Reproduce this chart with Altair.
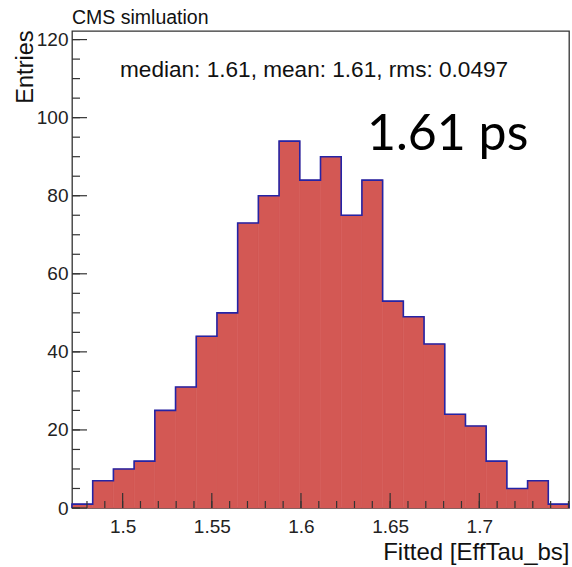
import altair as alt
import pandas as pd

# Histogram of fitted effective lifetimes (24 equal bins)
bin_lo = 1.4716
bin_hi = 1.7503
counts = [1, 7, 10, 12, 25, 31, 44, 50, 73, 80, 94, 84,
          90, 75, 84, 53, 49, 42, 24, 21, 12, 5, 7, 1]

x_major = [1.5, 1.55, 1.6, 1.65, 1.7]
x_minor = [round(1.48 + 0.01 * i, 2) for i in range(28)]
y_major = [0, 20, 40, 60, 80, 100, 120]
y_minor = list(range(0, 125, 5))
y_top = 122.2

stats_text = "median: 1.61, mean: 1.61, rms: 0.0497"
big_text = "1.61 ps"
corner_text = "CMS simluation"

W, H = 497, 477
FONT = "Liberation Sans"
FILL = "#d35854"

n = len(counts)
width = (bin_hi - bin_lo) / n
edges = [bin_lo + i * width for i in range(n + 1)]

bins = pd.DataFrame({"v": edges[:-1], "v2": edges[1:], "y": counts})

# outline path: start at baseline, step across bin tops, back to baseline
xs = [bin_lo] + edges[:-1] + [bin_hi, bin_hi]
ys = [0] + counts + [counts[-1], 0]
path = pd.DataFrame({"idx": range(len(xs)), "v": xs, "y": ys})

x_scale = alt.Scale(domain=[bin_lo, bin_hi], nice=False, zero=False)
y_scale = alt.Scale(domain=[0, y_top], nice=False)

x_axis = alt.Axis(
    values=x_major, format=".3~g", ticks=False, domain=False, grid=False,
    labelFont=FONT, labelFontSize=19, labelColor="#222", labelPadding=9,
    title="Fitted [EffTau_bs]", titleFont=FONT, titleFontSize=24,
    titleFontWeight="normal", titleColor="#111", titleAlign="right",
    titleAnchor="end", titleX=W, titleY=51, titleBaseline="alphabetic")
y_axis = alt.Axis(
    values=y_major, ticks=False, domain=False, grid=False,
    labelFont=FONT, labelFontSize=19, labelColor="#222", labelPadding=4,
    title="Entries", titleFont=FONT, titleFontSize=23.5,
    titleFontWeight="normal", titleColor="#111", titleAngle=-90,
    titleAlign="right", titleBaseline="alphabetic", titleX=-40, titleY=-1)

X = alt.X("v:Q", scale=x_scale, axis=x_axis)
Y = alt.Y("y:Q", scale=y_scale, axis=y_axis)

fill = alt.Chart(bins).mark_rect(
    color=FILL, stroke=FILL, strokeWidth=0.6
).encode(x=X, x2="v2:Q", y=Y, y2=alt.datum(0))

outline = alt.Chart(path).mark_line(
    interpolate="step-after", color="#2424a6", strokeWidth=1.6
).encode(x=X, y=Y, order="idx:Q")

tick_color = "#333"

def x_ticks(vals, length):
    return alt.Chart(pd.DataFrame({"v": vals})).mark_rule(
        color=tick_color, strokeWidth=1.2
    ).encode(x=X, y=alt.value(H), y2=alt.value(H - length))

def y_ticks(vals, length):
    return alt.Chart(pd.DataFrame({"y": vals})).mark_rule(
        color=tick_color, strokeWidth=1.2
    ).encode(y=Y, x=alt.value(0), x2=alt.value(length))

def label(text, px, py, size, font=FONT, color="#111"):
    return alt.Chart(pd.DataFrame({"t": [text]})).mark_text(
        align="left", baseline="alphabetic", font=font, fontSize=size, color=color
    ).encode(text="t:N", x=alt.value(px), y=alt.value(py))

chart = alt.layer(
    fill, outline,
    x_ticks(x_minor, 7), x_ticks(x_major, 15),
    y_ticks(y_minor, 8), y_ticks(y_major, 15),
    label(corner_text, 0, -7, 19.5),
    label(stats_text, 48, 46, 22.6),
    label(big_text, 295, 119, 50, font="Lato", color="#000"),
).properties(
    width=W, height=H,
    autosize=alt.AutoSizeParams(type="none"),
    padding={"left": 72, "top": 31, "right": 3, "bottom": 59},
    background="white",
).configure_view(
    stroke="#333", strokeWidth=1.3
)

chart.save("out.html", embed_options={"renderer": "svg", "actions": False})
